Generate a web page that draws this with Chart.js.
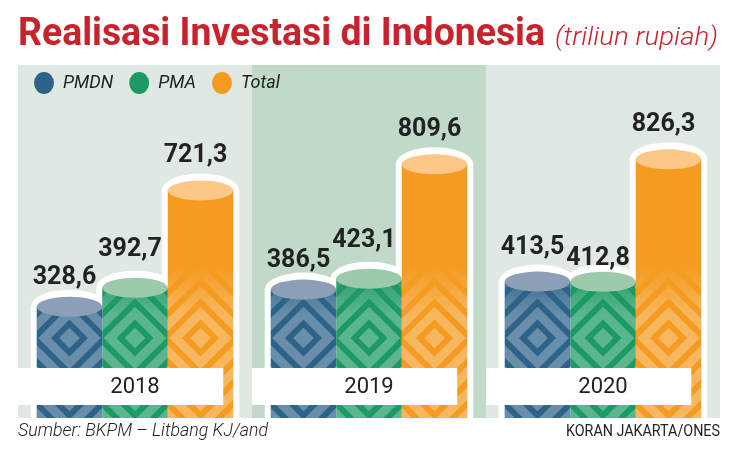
<!DOCTYPE html>
<html>
<head>
<meta charset="utf-8">
<script src="https://cdn.jsdelivr.net/npm/chart.js@4.4.1/dist/chart.umd.min.js"></script>
<style>
  body { margin: 0; width: 736px; height: 458px; position: relative; background: #fff; overflow: hidden; }
  canvas { position: absolute; left: 0; top: 0; }
  .txt { position: absolute; white-space: nowrap; line-height: 1; transform-origin: left top; font-family: Roboto, sans-serif; }
  #title { left: 18px; top: 13px; font-size: 38px; font-weight: 700; color: #c8232c; }
  #unit { left: 555px; top: 23px; font-size: 26px; font-weight: 300; font-style: italic; color: #c8232c; }
  #src { left: 18px; top: 421px; font-size: 18px; font-weight: 300; font-style: italic; color: #222; }
  #credit { left: 566px; top: 423px; font-size: 16px; font-weight: 400; color: #222; }
</style>
</head>
<body>
<canvas id="chart" width="736" height="458"></canvas>
<div class="txt" id="title" data-w="527">Realisasi Investasi di Indonesia</div>
<div class="txt" id="unit" data-w="163">(triliun rupiah)</div>
<div class="txt" id="src" data-w="250">Sumber: BKPM – Litbang KJ/and</div>
<div class="txt" id="credit" data-w="154">KORAN JAKARTA/ONES</div>
<script>
const years = ['2018', '2019', '2020'];
const seriesNames = ['PMDN', 'PMA', 'Total'];
const pmdn = [328.6, 386.5, 413.5];
const pma = [392.7, 423.1, 412.8];
const total = [721.3, 809.6, 826.3];

const barColors = ['#2e6389', '#1d9a64', '#f49b20'];
const capColors = ['#8d9fb7', '#9dcaab', '#fcc787'];
const panelColors = ['#dfe9e1', '#c0d9c8', '#dfe9e1'];
const Y_MIN = -47;
const Y_MAX = 1020;
const CAP_RY = 10;

// squeeze the html texts to the widths of the condensed original type
document.querySelectorAll('.txt').forEach((el) => {
  const w = el.getBoundingClientRect().width;
  el.style.transform = 'scaleX(' + (Number(el.dataset.w) / w) + ')';
});

function fmt(v) {
  return v.toFixed(1).replace('.', ',');
}

function barProps(chart, d, i) {
  return chart.getDatasetMeta(d).data[i].getProps(['x', 'y', 'base', 'width'], true);
}

function eachBar(chart, fn) {
  chart.data.datasets.forEach((ds, d) => {
    ds.data.forEach((v, i) => fn(barProps(chart, d, i), d, i, v));
  });
}

let patternCanvas = null;

// nested diamonds, one set per bar, fading out towards the top
function buildPattern(chart) {
  const c = document.createElement('canvas');
  c.width = chart.width;
  c.height = chart.height;
  const g = c.getContext('2d');
  g.strokeStyle = 'rgba(255,255,255,0.28)';
  g.lineWidth = 9;
  eachBar(chart, (p) => {
    g.save();
    g.beginPath();
    g.rect(p.x - p.width / 2, p.y, p.width, p.base - p.y);
    g.clip();
    const cx = p.x;
    const cy = 338;
    for (let r = 4; r < 260; r += 21) {
      g.beginPath();
      g.moveTo(cx, cy - r);
      g.lineTo(cx + r, cy);
      g.lineTo(cx, cy + r);
      g.lineTo(cx - r, cy);
      g.closePath();
      g.stroke();
    }
    g.restore();
  });
  g.globalCompositeOperation = 'destination-in';
  const grad = g.createLinearGradient(0, 265, 0, 315);
  grad.addColorStop(0, 'rgba(0,0,0,0)');
  grad.addColorStop(1, 'rgba(0,0,0,1)');
  g.fillStyle = grad;
  g.fillRect(0, 0, c.width, c.height);
  return c;
}

const cylinders = {
  id: 'cylinders',
  beforeDraw(chart) {
    const ctx = chart.ctx;
    const area = chart.chartArea;
    const xScale = chart.scales.x;
    const step = (area.right - area.left) / years.length;
    const top = chart.legend.top + 7;
    ctx.save();
    years.forEach((y, i) => {
      const left = xScale.getPixelForValue(i) - step / 2;
      ctx.fillStyle = panelColors[i];
      ctx.fillRect(left, top, step, area.bottom - top);
    });
    ctx.restore();
  },
  beforeDatasetsDraw(chart) {
    const ctx = chart.ctx;
    ctx.save();
    ctx.fillStyle = '#ffffff';
    eachBar(chart, (p) => {
      const half = p.width / 2 + 6;
      ctx.fillRect(p.x - half, p.y, half * 2, p.base - p.y);
      ctx.beginPath();
      ctx.ellipse(p.x, p.y, half, CAP_RY + 7, 0, 0, Math.PI * 2);
      ctx.fill();
    });
    ctx.restore();
  },
  afterDatasetsDraw(chart) {
    const ctx = chart.ctx;
    const area = chart.chartArea;
    const xScale = chart.scales.x;
    const step = (area.right - area.left) / years.length;
    if (!patternCanvas) patternCanvas = buildPattern(chart);

    ctx.save();
    ctx.drawImage(patternCanvas, 0, 0);

    // cylinder caps
    eachBar(chart, (p, d) => {
      ctx.fillStyle = capColors[d];
      ctx.beginPath();
      ctx.ellipse(p.x, p.y, p.width / 2, CAP_RY, 0, 0, Math.PI * 2);
      ctx.fill();
    });

    // year boxes
    years.forEach((y, i) => {
      const left = xScale.getPixelForValue(i) - step / 2;
      const last = barProps(chart, chart.data.datasets.length - 1, i);
      const right = last.x + last.width / 2 - 10;
      ctx.fillStyle = '#ffffff';
      ctx.fillRect(left, 368, right - left, 37);
      ctx.fillStyle = '#222222';
      ctx.font = '400 22px Roboto';
      ctx.textAlign = 'center';
      ctx.textBaseline = 'middle';
      ctx.fillText(y, xScale.getPixelForValue(i), 387);
    });

    // value labels; neighbours that nearly touch are staggered apart
    ctx.font = '700 25px Roboto';
    ctx.fillStyle = '#222222';
    ctx.textAlign = 'center';
    ctx.textBaseline = 'alphabetic';
    years.forEach((y, i) => {
      const labels = chart.data.datasets.map((ds, d) => {
        const p = barProps(chart, d, i);
        const text = fmt(ds.data[i]);
        const w = ctx.measureText(text).width;
        return { text, x: p.x - 5, w, base: p.y - CAP_RY - 18 };
      });
      for (let k = 1; k < labels.length; k++) {
        const a = labels[k - 1];
        const b = labels[k];
        if ((b.x - b.w / 2) - (a.x + a.w / 2) >= 8) continue;
        const diff = a.base - b.base;
        if (Math.abs(diff) < 8) {
          b.base += 11;
        } else if (diff > 0 && diff < 22) {
          a.base += 5;
          b.base -= 4;
        }
      }
      labels.forEach((l) => ctx.fillText(l.text, l.x, l.base));
    });
    ctx.restore();
  }
};

const seriesValues = [pmdn, pma, total];

new Chart(document.getElementById('chart'), {
  type: 'bar',
  data: {
    labels: years,
    datasets: seriesNames.map((name, d) => ({
      label: name,
      data: seriesValues[d],
      backgroundColor: barColors[d],
      borderWidth: 0,
      base: Y_MIN,
      categoryPercentage: 0.84,
      barPercentage: 1.0
    }))
  },
  options: {
    responsive: false,
    animation: false,
    devicePixelRatio: 1,
    layout: {
      padding: { top: 58, left: 18, right: 16, bottom: 40 }
    },
    scales: {
      x: { display: false },
      y: { display: false, min: Y_MIN, max: Y_MAX }
    },
    plugins: {
      tooltip: { enabled: false },
      legend: {
        position: 'top',
        align: 'start',
        labels: {
          usePointStyle: true,
          pointStyle: 'circle',
          pointStyleWidth: 20,
          boxHeight: 15.5,
          padding: 16,
          color: '#222222',
          font: { family: 'Roboto', size: 18, style: 'italic', weight: 400 }
        }
      }
    }
  },
  plugins: [cylinders]
});
</script>
</body>
</html>
